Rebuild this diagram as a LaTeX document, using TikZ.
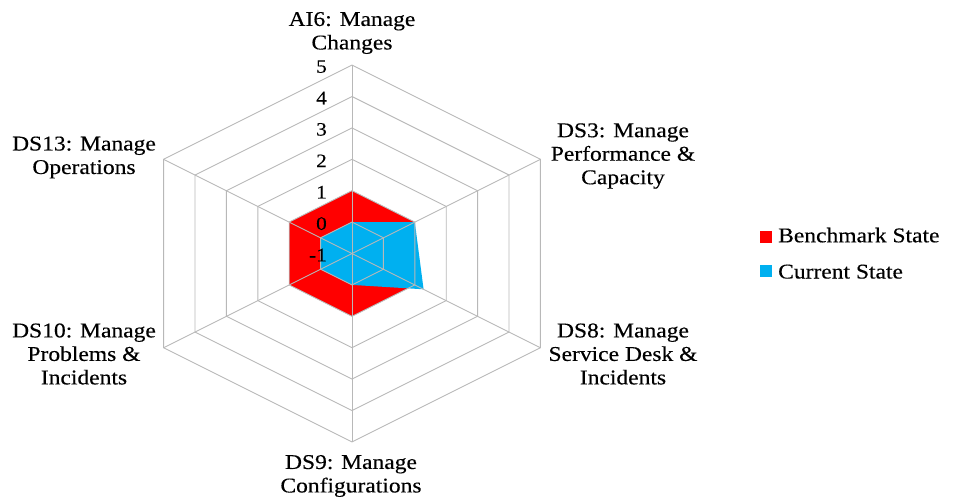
\documentclass[tikz,border=0pt]{standalone}
\usepackage{fontspec}
\setmainfont{Liberation Serif}[FakeStretch=1.12,FakeBold=0.3]
\begin{document}
\begin{tikzpicture}[x=1pt,y=-1pt,
  gridline/.style={draw=black!28,line width=0.9pt},
  axlabel/.style={align=center,inner sep=0pt,font=\fontsize{21}{23.5}\selectfont},
  ticklabel/.style={anchor=east,inner sep=0pt,font=\fontsize{19}{21}\selectfont},
  legtext/.style={anchor=base west,inner sep=0pt,font=\fontsize{21}{23}\selectfont},
  legkey/.style={minimum size=12pt,inner sep=0pt,anchor=north west}]
\definecolor{benchred}{RGB}{255,0,0}
\definecolor{currblue}{RGB}{0,176,240}
\useasboundingbox (0,0) rectangle (953,499);
\coordinate (C) at (352,253.5);
\def\u{31.4}
\begin{scope}[shift={(C)}]
  % benchmark state: value 1 on every axis (two units out from -1)
  \pgfmathsetmacro\rb{2*\u}
  \fill[benchred] (0,-\rb) -- (\rb,-\rb/2) -- (\rb,\rb/2) -- (0,\rb) -- (-\rb,\rb/2) -- (-\rb,-\rb/2) -- cycle;
  % current state: 0, 1, 1.28, 0, 0, 0
  \pgfmathsetmacro\ra{1*\u}
  \pgfmathsetmacro\rc{2*\u}
  \pgfmathsetmacro\rd{2.28*\u}
  \fill[currblue] (0,-\ra) -- (\rc,-\rc/2) -- (\rd,\rd/2) -- (0,\ra) -- (-\ra,\ra/2) -- (-\ra,-\ra/2) -- cycle;
  % rings for -1 ... 5
  \foreach \k in {1,...,6} {
    \pgfmathsetmacro\r{\k*\u}
    \draw[gridline] (0,-\r) -- (\r,-\r/2) -- (\r,\r/2) -- (0,\r) -- (-\r,\r/2) -- (-\r,-\r/2) -- cycle;
  }
  % spokes
  \pgfmathsetmacro\R{6*\u}
  \coordinate (A1) at (0,-\R);
  \coordinate (A2) at (\R,-\R/2);
  \coordinate (A3) at (\R,\R/2);
  \coordinate (A4) at (0,\R);
  \coordinate (A5) at (-\R,\R/2);
  \coordinate (A6) at (-\R,-\R/2);
  \foreach \a in {A1,A2,A3,A4,A5,A6} \draw[gridline] (0,0) -- (\a);
  % scale labels
  \foreach \v [count=\k from 0] in {-1,0,1,2,3,4,5}
    \node[ticklabel] (t\k) at (-25,-\k*\u+1.5) {\v};
\end{scope}
% axis titles
\node[axlabel] (ai6)  at (352,33)   {AI6: Manage\\Changes};
\node[axlabel] (ds3)  at (623,156)  {DS3: Manage\\Performance \&\\Capacity};
\node[axlabel] (ds8)  at (623,354)  {DS8: Manage\\Service Desk \&\\Incidents};
\node[axlabel] (ds9)  at (351,476)  {DS9: Manage\\Configurations};
\node[axlabel] (ds10) at (84,354)   {DS10: Manage\\Problems \&\\Incidents};
\node[axlabel] (ds13) at (84,157.5) {DS13: Manage\\Operations};
% legend
\node[legkey,fill=benchred] (kb) at (760,230.5) {};
\node[legtext] (lb) at (778,242.3) {Benchmark State};
\node[legkey,fill=currblue] (kc) at (760,265) {};
\node[legtext] (lc) at (778,278.5) {Current State};
\end{tikzpicture}
\end{document}
